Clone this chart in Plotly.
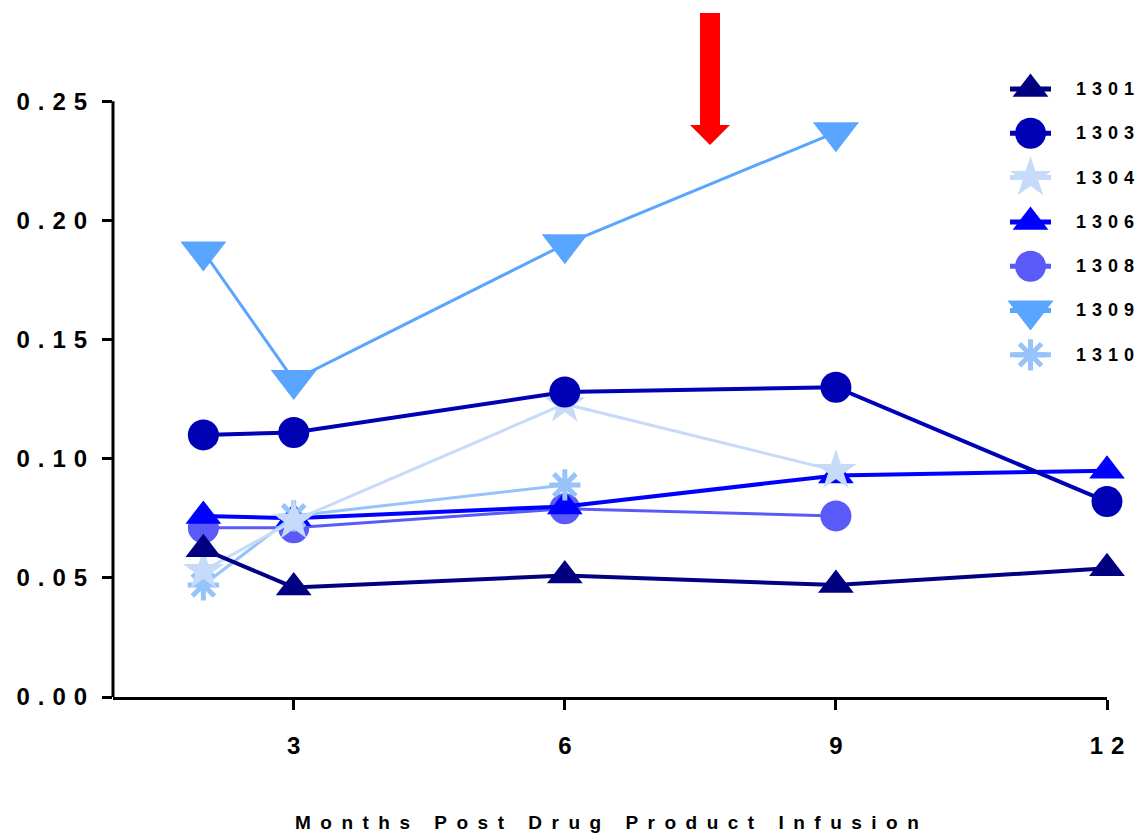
import plotly.graph_objects as go

# ---------------- data ----------------
months = [2, 3, 6, 9, 12]
series_names = ["1301", "1303", "1304", "1306", "1308", "1309", "1310"]
s1301 = [0.062, 0.046, 0.051, 0.047, 0.054]
s1303 = [0.110, 0.111, 0.128, 0.130, 0.082]
s1304 = [0.053, 0.074, 0.123, 0.095, None]
s1306 = [0.076, 0.075, 0.080, 0.093, 0.095]
s1308 = [0.071, 0.071, 0.079, 0.076, None]
s1309 = [0.187, 0.133, 0.190, 0.237, None]
s1310 = [0.047, 0.076, 0.089, None, None]
values = {"1301": s1301, "1303": s1303, "1304": s1304, "1306": s1306,
          "1308": s1308, "1309": s1309, "1310": s1310}

x_tick_vals = [3, 6, 9, 12]
y_tick_vals = [0.00, 0.05, 0.10, 0.15, 0.20, 0.25]
x_title = "Months Post Drug Product Infusion"

# ---------------- styles ----------------
colors = {"1301": "#000080", "1303": "#0000b4", "1304": "#c6dbf7", "1306": "#0000ff",
          "1308": "#5a5af8", "1309": "#5aa5ff", "1310": "#96c3fa"}
symbols = {"1301": "triangle-up", "1303": "circle", "1304": "star", "1306": "triangle-up",
           "1308": "circle", "1309": "triangle-down", "1310": "asterisk-open"}
sizes = {"1301": 31, "1303": 31, "1304": 31, "1306": 31, "1308": 31, "1309": 40, "1310": 26}
widths = {"1301": 4, "1303": 4, "1304": 3, "1306": 4, "1308": 3, "1309": 3, "1310": 3}
draw_order = ["1308", "1306", "1310", "1304", "1301", "1303", "1309"]

EN = "\u2002"   # en space
TPE = "\u2004"  # three-per-em space


def spaced(s, sep=TPE, word_sep=None):
    if word_sep is None:
        word_sep = sep * 3
    return word_sep.join(sep.join(list(w)) for w in s.split(" "))


FONT = "Liberation Sans, Arial, Helvetica, sans-serif"

W, H = 1139, 833
L, R = 113, 1139 - 1107
B = 833 - 697
T = 6
YMAX = 0.29

fig = go.Figure()


def marker_for(name):
    m = dict(symbol=symbols[name], size=sizes[name], color=colors[name],
             line=dict(width=0, color=colors[name]))
    if symbols[name] == "asterisk-open":
        m["line"] = dict(width=5, color=colors[name])
    return m


for name in draw_order:
    fig.add_trace(go.Scatter(
        x=months, y=values[name], name=name, mode="lines+markers",
        line=dict(color=colors[name], width=widths[name]),
        marker=marker_for(name), cliponaxis=False, showlegend=False,
        connectgaps=False))

# ---------------- custom legend (large symbols) ----------------
plot_h = H - T - B
plot_w = W - L - R
row_px0, row_step = 89, 44.3
dom_top_px, dom_bot_px = 40.0, 420.0
dom = [(H - B - dom_bot_px) / plot_h, (H - B - dom_top_px) / plot_h]
r_top = (dom_top_px - row_px0) / row_step
r_bot = (dom_bot_px - row_px0) / row_step
leg_x0, leg_x1 = 1010, 1051
xdom = [(leg_x0 - L) / plot_w, (leg_x1 - L) / plot_w]

for i, name in enumerate(series_names):
    fig.add_trace(go.Scatter(
        x=[0, 0.5, 1], y=[i, i, i], mode="lines", xaxis="x2", yaxis="y2",
        line=dict(color=colors[name], width=5),
        showlegend=False, hoverinfo="skip", cliponaxis=False))
    fig.add_trace(go.Scatter(
        x=[0.5], y=[i], mode="markers", xaxis="x2", yaxis="y2",
        marker=marker_for(name), showlegend=False, hoverinfo="skip", cliponaxis=False))
    fig.add_annotation(
        x=(1074 - L) / plot_w, xref="paper", xanchor="left",
        y=(H - B - (row_px0 + row_step * i)) / plot_h, yref="paper", yanchor="middle",
        text=spaced(name), showarrow=False,
        font=dict(family=FONT, size=18, color="black", weight="bold"))

# ---------------- axes ----------------
fig.update_layout(
    width=W, height=H,
    margin=dict(l=L, r=R, t=T, b=B),
    paper_bgcolor="white", plot_bgcolor="white",
    font=dict(family=FONT, color="black"),
    xaxis=dict(range=[1, 12], tickvals=x_tick_vals,
               ticktext=[spaced(str(v)) for v in x_tick_vals],
               showgrid=False, zeroline=False, showline=True, linewidth=3,
               linecolor="black", ticks="outside", ticklen=10, tickwidth=3,
               tickcolor="black", ticklabelstandoff=15,
               tickfont=dict(family=FONT, size=24, color="black", weight="bold")),
    yaxis=dict(range=[0, YMAX], tickvals=y_tick_vals,
               ticktext=[spaced(f"{v:.2f}") for v in y_tick_vals],
               showgrid=False, zeroline=False, showline=False,
               ticks="outside", ticklen=10, tickwidth=3, tickcolor="black",
               ticklabelstandoff=10,
               tickfont=dict(family=FONT, size=24, color="black", weight="bold")),
    xaxis2=dict(domain=xdom, range=[0, 1], visible=False, anchor="y2", fixedrange=True),
    yaxis2=dict(domain=dom, range=[r_bot, r_top], visible=False, anchor="x2", fixedrange=True),
    hovermode="closest",
)

# y-axis line only up to 0.25 (x domain ref -> not clipped horizontally)
fig.add_shape(type="line", xref="x domain", yref="y", x0=0, x1=0, y0=0, y1=max(y_tick_vals),
              line=dict(color="black", width=3), layer="above")

# axis title
fig.add_annotation(x=(607 - L) / plot_w, xref="paper", y=(H - B - 822) / plot_h, yref="paper",
                   text=spaced(x_title, sep=EN, word_sep=EN + " " + EN), showarrow=False,
                   xanchor="center", yanchor="middle",
                   font=dict(family=FONT, size=19, color="black", weight="bold"))

# red arrow
px_per_x = plot_w / 11.0
px_per_y = plot_h / YMAX
ax = 1 + (710 - L) / px_per_x
tip_y = (H - B - 145) / px_per_y
head_y = (H - B - 125) / px_per_y
tail_y = (H - B - 13) / px_per_y
sw = 10 / px_per_x
hw = 20 / px_per_x
path = (f"M {ax - sw},{tail_y} L {ax + sw},{tail_y} L {ax + sw},{head_y} "
        f"L {ax + hw},{head_y} L {ax},{tip_y} L {ax - hw},{head_y} L {ax - sw},{head_y} Z")
fig.add_shape(type="path", xref="x", yref="y", path=path,
              fillcolor="#ff0000", line=dict(width=0), layer="above")

fig.write_html("out.html", config={"displayModeBar": False},
               post_script="document.body.style.margin='0';")
